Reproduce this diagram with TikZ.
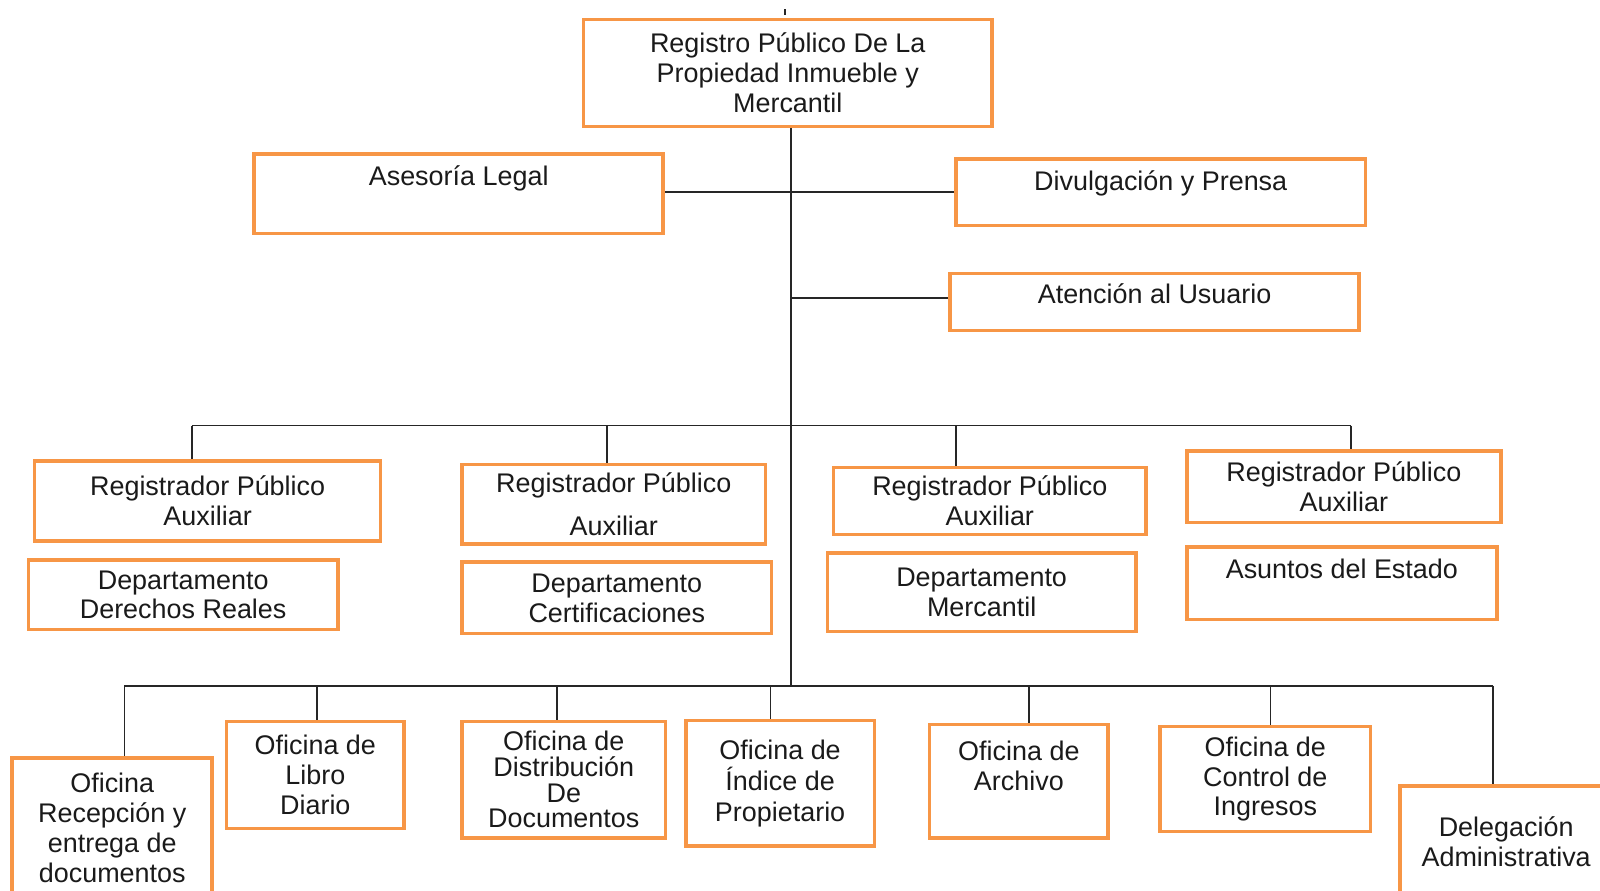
\documentclass[tikz,border=0pt]{standalone}
\usepackage{fontspec}
\setmainfont{Liberation Sans}
\definecolor{naranja}{HTML}{F79646}
\definecolor{texto}{HTML}{1A1A1A}

\begin{document}
\begin{tikzpicture}[x=0.5pt, y=-0.5pt,
    caja/.style={draw=naranja, line width=1.75pt, inner sep=0pt, align=center,
      text=texto, font=\fontsize{13.2}{14.65}\selectfont},
    tam/.style 2 args={minimum width=#1*0.5pt, minimum height=#2*0.5pt},
    linea/.style={draw=black!85, line width=0.9pt}]
  \useasboundingbox (0,0) rectangle (1568,873);

  % direccion
  \node[caja, tam={400}{105}] (registro) at (772,71.5) {Registro Público De La\\Propiedad Inmueble y\\Mercantil};
  \node[caja, tam={401}{78}, text depth=18.1pt] (asesoria) at (449.5,190) {Asesoría Legal};
  \node[caja, tam={401}{65}, text depth=11.6pt] (prensa) at (1137.5,188.5) {Divulgación y Prensa};
  \node[caja, tam={401}{56}, text depth=8.1pt] (usuario) at (1131.5,296) {Atención al Usuario};

  % registradores
  \node[caja, tam={339}{78}] (reg1) at (203.5,491) {Registrador Público\\Auxiliar};
  \node[caja, tam={297}{78}] (reg2) at (601.5,494) {Registrador Público\\[6.5pt]Auxiliar};
  \node[caja, tam={306}{66}] (reg3) at (970,491) {Registrador Público\\Auxiliar};
  \node[caja, tam={308}{70}] (reg4) at (1317,477) {Registrador Público\\Auxiliar};
  \node[caja, tam={303}{68}] (dreales) at (179.5,583) {Departamento\\Derechos Reales};
  \node[caja, tam={303}{70}] (dcert) at (604.5,586) {Departamento\\Certificaciones};
  \node[caja, tam={302}{77}] (dmerc) at (962,580.5) {Departamento\\Mercantil};
  \node[caja, tam={304}{71}, text depth=14.6pt] (asuntos) at (1315,571.5) {Asuntos del Estado};

  % oficinas
  \node[caja, tam={196}{137}] (recepcion) at (110,811.5) {Oficina\\Recepción y\\entrega de\\documentos};
  \node[caja, tam={174}{105}] (libro) at (309,759.5) {Oficina de\\Libro\\Diario};
  \node[caja, tam={199}{114}] (distribucion) at (552.5,764) {Oficina de\\[-2pt]Distribución\\[-2pt]De\\[-2pt]Documentos};
  \node[caja, tam={185}{123}] (indice) at (764.5,767.5) {Oficina de\\[0.6pt]Índice de\\[0.6pt]Propietario};
  \node[caja, tam={175}{111}] (archivo) at (998.5,765.5) {Oficina de\\Archivo\\\mbox{}};
  \node[caja, tam={206}{103}] (ingresos) at (1240,763.5) {Oficina de\\Control de\\Ingresos};
  \node[caja, tam={208}{110}] (delegacion) at (1476,825) {Delegación\\Administrativa};

  % lineas
  \coordinate (marcaA) at (769,9);
  \coordinate (marcaB) at (769,14.5);
  \draw[linea] (marcaA) -- (marcaB);

  \coordinate (nudo1) at (775,417);
  \coordinate (nudo2) at (775,672);
  \draw[linea] (registro.south -| nudo1) -- (nudo2);
  \draw[linea] (prensa.west -| asesoria.east) -- (prensa.west);
  \draw[linea] ([yshift=2pt]usuario.west -| nudo1) -- ([yshift=2pt]usuario.west);

  \coordinate (b1) at (188,417);
  \coordinate (b2) at (595,417);
  \coordinate (b3) at (937,417);
  \coordinate (b4) at (1324,417);
  \draw[linea] (b1) -- (b4);
  \foreach \c/\n in {b1/reg1, b2/reg2, b3/reg3, b4/reg4}
    \draw[linea] (\c) -- (\c |- \n.north);

  \coordinate (c1) at (122,672);
  \coordinate (c2) at (311,672);
  \coordinate (c3) at (546,672);
  \coordinate (c4) at (755,672);
  \coordinate (c5) at (1008,672);
  \coordinate (c6) at (1245,672);
  \coordinate (c7) at (1463,672);
  \draw[linea] (c1) -- (c7);
  \foreach \c/\n in {c1/recepcion, c2/libro, c3/distribucion, c4/indice,
                     c5/archivo, c6/ingresos, c7/delegacion}
    \draw[linea] (\c) -- (\c |- \n.north);
\end{tikzpicture}
\end{document}
